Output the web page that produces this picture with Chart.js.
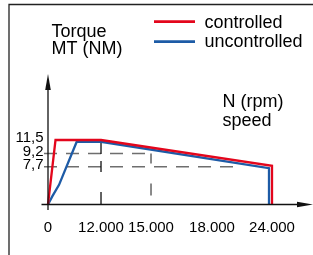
<!DOCTYPE html>
<html><head><meta charset="utf-8">
<script src="https://cdn.jsdelivr.net/npm/chart.js@4/dist/chart.umd.min.js"></script>
<style>html,body{margin:0;padding:0;background:#fff}canvas{display:block}</style>
</head><body>
<canvas id="c" width="313" height="255"></canvas>
<script>
// ---- data ----
const seriesNames = ['controlled', 'uncontrolled'];
const controlledRpm = [0, 1700, 12000, 24000, 24000];
const controlledTorque = [0, 11.5, 11.5, 7.8, 0];
const uncontrolledRpm = [0, 1000, 2500, 6500, 12000, 23700, 23700];
const uncontrolledTorque = [0, 1.7, 4.0, 11.2, 11.2, 7.4, 0];
const xTickValues = [0, 12000, 15000, 18000, 24000];
const xTickLabels = ['0', '12.000', '15.000', '18.000', '24.000'];
const yTickValues = [7.7, 9.2, 11.5];
const yTickLabels = ['7,7', '9,2', '11,5'];
const yAxisTitle = ['Torque', 'MT (NM)'];
const xAxisTitle = ['N (rpm)', 'speed'];
// reference lines (torque level -> rpm where it ends; rpm marker -> torque where it starts)
const refTorque = [9.2, 7.7];
const refTorqueEndRpm = [15000, 21000];
const refRpm = [12000, 15000];
const refRpmTopTorque = [11.5, 9.2];

// ---- schematic (non-uniform) axis scale ----
const KNOTS = {
  x: [[0, 0], [12000, 0.2008], [15000, 0.3902], [18000, 0.6212], [24000, 0.8485], [27000, 1]],
  y: [[0, 0], [7.7, 0.2897], [9.2, 0.3908], [11.5, 0.4943], [20, 1]]
};
function mapPW(k, v, a, b) {
  let i = 0;
  while (i < k.length - 2 && v > k[i + 1][a]) i++;
  const p = k[i], q = k[i + 1];
  return p[b] + (v - p[a]) * (q[b] - p[b]) / (q[a] - p[a]);
}
class PiecewiseScale extends Chart.LinearScale {
  getPixelForValue(value) {
    return this.getPixelForDecimal(mapPW(KNOTS[this.id], value, 0, 1));
  }
  getValueForPixel(pixel) {
    return mapPW(KNOTS[this.id], this.getDecimalForPixel(pixel), 1, 0);
  }
}
PiecewiseScale.id = 'piecewise';
PiecewiseScale.defaults = {};
Chart.register(PiecewiseScale);

const FONT = '"Liberation Sans", Arial, sans-serif';
const RED = '#e3061c';
const BLUE = '#1d5ba6';
const INK = '#000';

const refPlugin = {
  id: 'refLines',
  beforeDatasetsDraw(chart) {
    const {ctx, scales: {x, y}} = chart;
    ctx.save();
    ctx.strokeStyle = '#6e6e6e';
    ctx.lineWidth = 1.6;
    ctx.setLineDash([13, 9]);
    refTorque.forEach((t, i) => {
      const py = y.getPixelForValue(t);
      ctx.beginPath();
      ctx.moveTo(x.getPixelForValue(0) - 4, py);
      ctx.lineTo(x.getPixelForValue(refTorqueEndRpm[i]), py);
      ctx.stroke();
    });
    refRpm.forEach((r, i) => {
      const px = x.getPixelForValue(r);
      ctx.beginPath();
      if (i === 0) {
        ctx.strokeStyle = '#111';
        ctx.lineWidth = 1.3;
        ctx.setLineDash([14, 7, 11, 20, 13]);
      } else {
        ctx.strokeStyle = '#6e6e6e';
        ctx.lineWidth = 1.6;
        ctx.setLineDash([10, 20, 12, 200]);
      }
      ctx.moveTo(px, y.getPixelForValue(refRpmTopTorque[i]));
      ctx.lineTo(px, y.getPixelForValue(0));
      ctx.stroke();
    });
    ctx.restore();
  },
  afterDraw(chart) {
    const {ctx, scales: {x, y}} = chart;
    const x0 = x.getPixelForValue(0), y0 = y.getPixelForValue(0);
    ctx.save();
    ctx.setLineDash([]);
    ctx.strokeStyle = '#222';
    ctx.lineWidth = 1.3;
    ctx.beginPath();
    ctx.moveTo(9, 255); ctx.lineTo(9, 4.5); ctx.lineTo(313, 4.5);
    ctx.stroke();
    ctx.strokeStyle = '#111';
    ctx.fillStyle = '#111';
    ctx.lineWidth = 1.3;
    ctx.beginPath();
    ctx.moveTo(x0, 210); ctx.lineTo(x0, 86);
    ctx.moveTo(x0 - 6.5, y0); ctx.lineTo(300, y0);
    ctx.stroke();
    ctx.beginPath();
    ctx.moveTo(x0, 74); ctx.lineTo(x0 + 2.8, 90); ctx.lineTo(x0 - 2.8, 90); ctx.closePath();
    ctx.fill();
    ctx.beginPath();
    ctx.moveTo(313, y0); ctx.lineTo(297, y0 - 2.8); ctx.lineTo(297, y0 + 2.8); ctx.closePath();
    ctx.fill();
    ctx.fillStyle = INK;
    ctx.font = '18px ' + FONT;
    ctx.textAlign = 'left';
    ctx.textBaseline = 'alphabetic';
    ctx.fillText(yAxisTitle[0], 51.5, 37);
    ctx.fillText(yAxisTitle[1], 51.5, 53.5);
    ctx.fillText(xAxisTitle[0], 222.5, 107);
    ctx.fillText(xAxisTitle[1], 222.5, 126);
    const ly = [21.7, 41.7], lb = [27.5, 47];
    chart.data.datasets.forEach((ds, i) => {
      ctx.strokeStyle = ds.borderColor;
      ctx.lineWidth = 2.7;
      ctx.beginPath();
      ctx.moveTo(154, ly[i]); ctx.lineTo(195, ly[i]);
      ctx.stroke();
      ctx.fillStyle = INK;
      ctx.fillText(ds.label, 204.5, lb[i]);
    });
    ctx.restore();
  }
};

new Chart(document.getElementById('c'), {
  type: 'line',
  data: {
    datasets: [
      {
        label: seriesNames[0],
        data: controlledRpm.map((r, i) => ({x: r, y: controlledTorque[i]})),
        borderColor: RED, borderWidth: 2.3, pointRadius: 0, tension: 0, clip: false,
        borderJoinStyle: 'miter'
      },
      {
        label: seriesNames[1],
        data: uncontrolledRpm.map((r, i) => ({x: r, y: uncontrolledTorque[i]})),
        borderColor: BLUE, borderWidth: 2.3, pointRadius: 0, tension: 0, clip: false,
        borderJoinStyle: 'miter'
      }
    ]
  },
  options: {
    responsive: false,
    animation: false,
    devicePixelRatio: 1,
    layout: {padding: {left: 0, top: 74, right: 1, bottom: 0}},
    plugins: {legend: {display: false}, tooltip: {enabled: false}},
    scales: {
      x: {
        type: 'piecewise', min: 0, max: 27000,
        afterBuildTicks: s => { s.ticks = xTickValues.map(v => ({value: v})); },
        afterFit: s => { s.height = 50.5; },
        ticks: {
          autoSkip: false, maxRotation: 0, minRotation: 0, padding: 14,
          color: INK, font: {family: FONT, size: 15},
          callback: (v, i) => xTickLabels[i]
        },
        grid: {display: false, drawTicks: false},
        border: {display: false}
      },
      y: {
        type: 'piecewise', min: 0, max: 20,
        afterBuildTicks: s => { s.ticks = yTickValues.map(v => ({value: v})); },
        afterFit: s => { s.width = 48; },
        ticks: {
          autoSkip: false, padding: 4.5, labelOffset: -2,
          color: INK, font: {family: FONT, size: 15},
          callback: (v, i) => yTickLabels[i]
        },
        grid: {display: false, drawTicks: false},
        border: {display: false}
      }
    }
  },
  plugins: [refPlugin]
});
</script>
</body></html>
